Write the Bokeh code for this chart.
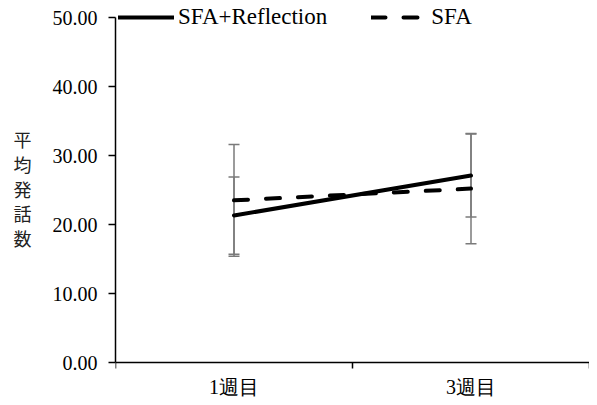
from bokeh.plotting import figure
from bokeh.models import (Range1d, FixedTicker, NumeralTickFormatter, Whisker,
                          ColumnDataSource, Legend, LegendItem)
from bokeh.core.properties import value
from bokeh.embed import file_html
from bokeh.resources import INLINE

# ---- data ----
weeks = ["1週目", "3週目"]
week_pos = [1, 3]
sfa_ref_mean = [21.3, 27.1]
sfa_ref_err = [5.6, 6.0]
sfa_mean = [23.5, 25.2]
sfa_err = [8.1, 8.0]
y_ticks = [0, 10, 20, 30, 40, 50]
x_sep_ticks = [0, 2, 4]
y_label_lines = ["平", "均", "発", "話", "数"]

# ---- layout constants (pixels) ----
W, H = 589, 397
FRAME_TOP = 4       # top of the drawing frame
ROW_50 = 17         # pixel row of y = 50
ZERO = 362          # pixel row of y = 0
px_per_unit = (ZERO - ROW_50) / 50.0
y_max = 50 + (ROW_50 - FRAME_TOP) / px_per_unit
y_min = -(H - ZERO) / px_per_unit
LEG_CENTER, LEG_H = 17, 26

FONT = "Liberation Serif"

p = figure(width=W, height=H, output_backend="svg", toolbar_location=None,
           x_range=Range1d(0, 4), y_range=Range1d(y_min, y_max),
           x_axis_location="above",
           min_border_left=115, min_border_right=0, min_border_top=FRAME_TOP,
           min_border_bottom=0)
p.outline_line_color = None
p.grid.grid_line_color = None
p.background_fill_color = "white"

# x axis drawn at y = 0, tick marks between the categories pointing down
xa = p.xaxis[0]
xa.fixed_location = 0
xa.ticker = FixedTicker(ticks=[], minor_ticks=x_sep_ticks)
xa.major_tick_out = 0
xa.major_tick_in = 0
xa.minor_tick_out = 0
xa.minor_tick_in = 6
xa.minor_tick_line_color = "black"
xa.minor_tick_line_width = 1.5
xa.axis_line_color = "black"
xa.axis_line_width = 1.5

# category labels under the axis
p.text(x=week_pos, y=[0] * len(week_pos), text=weeks, y_offset=13,
       text_align="center", text_baseline="top",
       text_font=value(FONT), text_font_size="20px",
       text_color="black")

# y axis
ya = p.yaxis[0]
ya.bounds = (0, 50)
ya.ticker = FixedTicker(ticks=y_ticks)
ya.formatter = NumeralTickFormatter(format="0.00")
ya.major_tick_out = 7
ya.major_tick_in = 0
ya.minor_tick_line_color = None
ya.major_tick_line_width = 1.5
ya.axis_line_width = 1.5
ya.major_label_text_font = FONT
ya.major_label_text_font_size = "20px"
ya.major_label_text_color = "black"
ya.major_label_standoff = 11
ya.axis_label = "\n".join(y_label_lines + [" "])
ya.axis_label_orientation = "horizontal"
ya.axis_label_text_font = "Noto Sans CJK JP"
ya.axis_label_text_font_style = "normal"
ya.axis_label_text_font_size = "18px"
ya.axis_label_text_color = "#222222"
ya.axis_label_text_line_height = 0.95
ya.axis_label_standoff = 18

# error bars
for mean, err in ((sfa_ref_mean, sfa_ref_err), (sfa_mean, sfa_err)):
    src = ColumnDataSource(dict(
        x=week_pos,
        upper=[m + e for m, e in zip(mean, err)],
        lower=[m - e for m, e in zip(mean, err)],
    ))
    w = Whisker(base="x", upper="upper", lower="lower", source=src,
                dimension="height", level="underlay",
                line_color="#7a7a7a", line_width=1.5)
    for head in (w.upper_head, w.lower_head):
        head.size = 11
        head.line_color = "#7a7a7a"
        head.line_width = 1.5
    p.add_layout(w)

r_ref = p.line(week_pos, sfa_ref_mean, line_color="black", line_width=4,
               line_cap="round")
r_sfa = p.line(week_pos, sfa_mean, line_color="black", line_width=4,
               line_dash="14 18", line_cap="round")

frame_h = H - FRAME_TOP
leg_bottom = LEG_CENTER + LEG_H / 2 - FRAME_TOP
legend = Legend(items=[LegendItem(label="SFA+Reflection", renderers=[r_ref]),
                       LegendItem(label="SFA", renderers=[r_sfa])],
                orientation="horizontal",
                location=(3, frame_h - leg_bottom),
                background_fill_alpha=0, border_line_color=None,
                padding=0, margin=0, spacing=44,
                glyph_width=56, glyph_height=22, label_height=22,
                label_standoff=4,
                label_text_font=FONT, label_text_font_size="23px",
                label_text_color="black")
p.add_layout(legend)

open("out.html", "w").write(file_html(p, INLINE))
